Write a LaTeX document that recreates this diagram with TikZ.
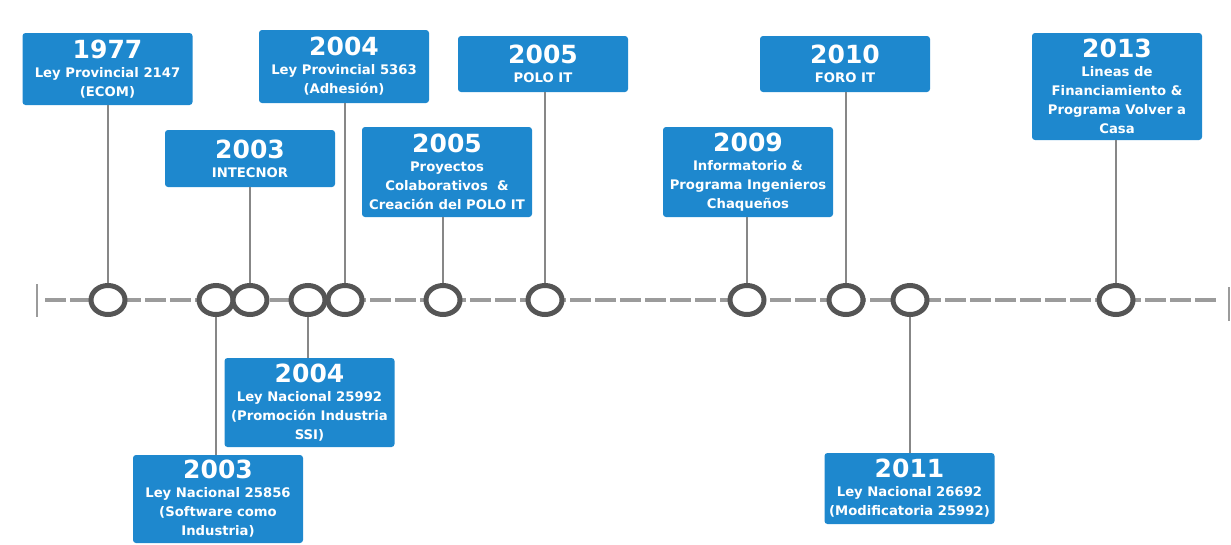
\documentclass[tikz,border=0pt]{standalone}
\usepackage{fontspec}
\setmainfont{DejaVu Sans}
\usetikzlibrary{shapes.geometric}
\definecolor{boxblue}{RGB}{30,136,206}
\definecolor{ringgray}{RGB}{85,85,85}
\definecolor{linegray}{RGB}{155,155,155}
\definecolor{stemgray}{RGB}{135,135,135}
\newcommand{\yr}[1]{{\fontsize{25}{26}\selectfont #1}\\}
\tikzset{
  evbox/.style={fill=boxblue, rounded corners=3pt, text=white, font=\bfseries\fontsize{13.2}{19}\selectfont,
    align=center, minimum width=170pt, inner sep=1pt, outer sep=0pt},
  ring/.style={ellipse, draw=ringgray, line width=5pt, fill=white, minimum width=34pt, minimum height=29pt, inner sep=0pt, outer sep=0pt},
  stem/.style={draw=stemgray, line width=2pt},
  axis/.style={draw=linegray, line width=4pt, dash pattern=on 21pt off 4pt},
  tickmark/.style={draw=linegray, line width=2pt}
}
\begin{document}
\begin{tikzpicture}[x=1pt,y=-1pt]
\useasboundingbox (0,0) rectangle (1231,544);
% timeline
\coordinate (ls) at (45,300);
\coordinate (le) at (1219,300);
\coordinate (lt1) at (37,284);
\coordinate (lb1) at (37,317);
\coordinate (rt1) at (1229,287);
\coordinate (rb1) at (1229,321);
\draw[axis] (ls) -- (le);
\draw[tickmark] (lt1) -- (lb1);
\draw[tickmark] (rt1) -- (rb1);
% boxes
\node[evbox, minimum height=72pt] (b1977) at (107.5,69) {\yr{1977}Ley Provincial 2147\\(ECOM)};
\node[evbox, minimum height=73pt] (b2004a) at (344,66.5) {\yr{2004}Ley Provincial 5363\\(Adhesión)};
\node[evbox, minimum height=57pt] (b2003a) at (250,158.5) {\yr{2003}INTECNOR};
\node[evbox, minimum height=90pt] (b2005a) at (447,172) {\yr{2005}Proyectos\\Colaborativos \ \&\\Creación del POLO IT};
\node[evbox, minimum height=56pt] (b2005b) at (543,64) {\yr{2005}POLO IT};
\node[evbox, minimum height=90pt] (b2009) at (748,172) {\yr{2009}Informatorio \&\\Programa Ingenieros\\Chaqueños};
\node[evbox, minimum height=56pt] (b2010) at (845,64) {\yr{2010}FORO IT};
\node[evbox, minimum height=107pt] (b2013) at (1117,86.5) {\yr{2013}Lineas de\\Financiamiento \&\\Programa Volver a\\Casa};
\node[evbox, minimum height=89pt] (b2004b) at (309.5,402.5) {\yr{2004}Ley Nacional 25992\\(Promoción Industria\\SSI)};
\node[evbox, minimum height=88pt] (b2003b) at (218,499) {\yr{2003}Ley Nacional 25856\\(Software como\\Industria)};
\node[evbox, minimum height=71pt] (b2011) at (909.5,488.5) {\yr{2011}Ley Nacional 26692\\(Modificatoria 25992)};
% stems (drawn before rings)
\coordinate (k1977) at (108,300);
\coordinate (k2003b) at (216,300);
\coordinate (k2003a) at (250,300);
\coordinate (k2004b) at (308,300);
\coordinate (k2004a) at (345,300);
\coordinate (k2005a) at (443,300);
\coordinate (k2005b) at (545,300);
\coordinate (k2009) at (747,300);
\coordinate (k2010) at (846,300);
\coordinate (k2011) at (910,300);
\coordinate (k2013) at (1116,300);
\foreach \n in {1977,2003a,2004a,2005a,2005b,2009,2010,2013}{
  \draw[stem] (k\n |- b\n.south) -- (k\n);
}
\foreach \n in {2003b,2004b,2011}{
  \draw[stem] (k\n |- b\n.north) -- (k\n);
}
% rings
\foreach \n in {1977,2003b,2003a,2004b,2004a,2005a,2005b,2009,2010,2011,2013}{
  \node[ring] (r\n) at (k\n) {};
}
\end{tikzpicture}
\end{document}
